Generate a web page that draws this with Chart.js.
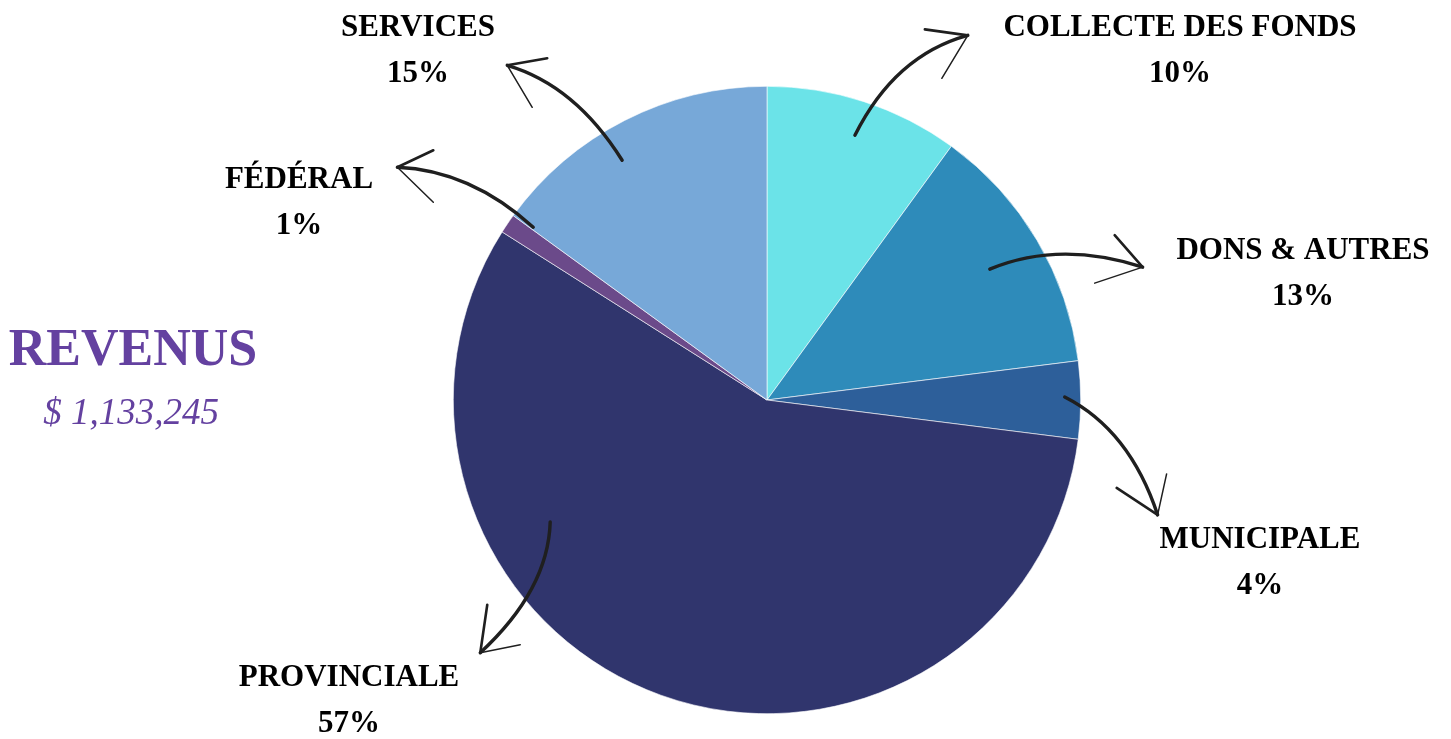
<!DOCTYPE html>
<html>
<head>
<meta charset="utf-8">
<script src="https://cdn.jsdelivr.net/npm/chart.js@4.4.1/dist/chart.umd.min.js"></script>
<style>
  html, body { margin: 0; padding: 0; background: #ffffff; }
  #wrap { position: relative; width: 1451px; height: 739px; }
</style>
</head>
<body>
<div id="wrap"><canvas id="c" width="1451" height="739"></canvas></div>
<script>
// ---- data ----
const categories = ['COLLECTE DES FONDS', 'DONS & AUTRES', 'MUNICIPALE', 'PROVINCIALE', 'FÉDÉRAL', 'SERVICES'];
const values = [10, 13, 4, 57, 1, 15];
const percentLabels = ['10%', '13%', '4%', '57%', '1%', '15%'];
const titleText = 'REVENUS';
const totalText = '$ 1,133,245';

// ---- styles / layout ----
const sliceColors = ['#6be3e8', '#2e8bba', '#2d5f9a', '#30356d', '#6b4a8a', '#77a8d8'];
// label anchor (centre x, baseline y of first line)
const labelLayout = [
  { x: 1180, y: 36 },
  { x: 1303, y: 259 },
  { x: 1260, y: 548 },
  { x: 349, y: 686 },
  { x: 299, y: 188 },
  { x: 418, y: 36 }
];
// arrows: offsets from pie centre (reference radius 314)
const arrowLayout = [
  { s: [88, -265], c: [128, -345], e: [201, -365], b1: [158, -371], b2: [175, -322] },
  { s: [223, -131], c: [293, -160], e: [376, -133], b1: [348, -165], b2: [328, -117] },
  { s: [298, -3], c: [363, 30], e: [391, 115], b1: [350, 88], b2: [400, 74] },
  { s: [-217, 122], c: [-219, 190], e: [-287, 253], b1: [-280, 205], b2: [-247, 245] },
  { s: [-234, -173], c: [-297, -230], e: [-370, -233], b1: [-334, -250], b2: [-334, -198] },
  { s: [-145, -240], c: [-192, -315], e: [-260, -335], b1: [-220, -342], b2: [-235, -293] }
];

const overlay = {
  id: 'overlay',
  afterDraw(chart) {
    const ctx = chart.ctx;
    const arc = chart.getDatasetMeta(0).data[0];
    const cx = arc.x, cy = arc.y, k = arc.outerRadius / 314;
    const P = (p) => [cx + p[0] * k, cy + p[1] * k];
    ctx.save();
    // arrows
    ctx.strokeStyle = '#1f1f1f';
    ctx.lineCap = 'round';
    ctx.lineJoin = 'round';
    arrowLayout.forEach(a => {
      const s = P(a.s), c = P(a.c), e = P(a.e), b1 = P(a.b1), b2 = P(a.b2);
      ctx.lineWidth = 3.4;
      ctx.beginPath();
      ctx.moveTo(s[0], s[1]);
      ctx.quadraticCurveTo(c[0], c[1], e[0], e[1]);
      ctx.stroke();
      ctx.lineWidth = 2.6;
      ctx.beginPath();
      ctx.moveTo(e[0], e[1]);
      ctx.lineTo(b1[0], b1[1]);
      ctx.stroke();
      ctx.lineWidth = 1.5;
      ctx.beginPath();
      ctx.moveTo(e[0], e[1]);
      ctx.lineTo(b2[0], b2[1]);
      ctx.stroke();
    });
    // labels
    ctx.fillStyle = '#000000';
    ctx.textAlign = 'center';
    ctx.textBaseline = 'alphabetic';
    categories.forEach((name, i) => {
      const L = labelLayout[i];
      ctx.font = 'bold 31px "Liberation Serif", "DejaVu Serif", serif';
      ctx.fillText(name, L.x, L.y);
      ctx.font = 'bold 31px "Liberation Serif", "DejaVu Serif", serif';
      ctx.fillText(percentLabels[i], L.x, L.y + 46);
    });
    // title
    ctx.fillStyle = '#6441a0';
    ctx.font = 'bold 52px "Liberation Serif", "DejaVu Serif", serif';
    ctx.fillText(titleText, 133, 365);
    ctx.font = 'italic 37px "Liberation Serif", "DejaVu Serif", serif';
    ctx.fillText(totalText, 131, 424);
    ctx.restore();
  }
};

new Chart(document.getElementById('c'), {
  type: 'pie',
  data: {
    labels: categories,
    datasets: [{
      data: values,
      backgroundColor: sliceColors,
      borderColor: '#ffffff',
      borderWidth: 0.6
    }]
  },
  options: {
    responsive: false,
    animation: false,
    layout: { padding: { left: 83, right: 0, top: 86, bottom: 25 } },
    plugins: {
      legend: { display: false },
      tooltip: { enabled: false }
    }
  },
  plugins: [overlay]
});
</script>
</body>
</html>
